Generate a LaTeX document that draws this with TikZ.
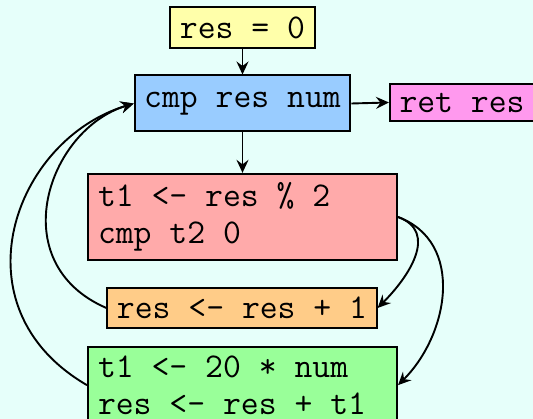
\documentclass[tikz,border=0pt]{standalone}
\usepackage{fontspec}
\setmonofont{Latin Modern Mono}
\usetikzlibrary{arrows.meta}

\definecolor{bgcyan}{HTML}{E6FFFA}
\definecolor{cyellow}{HTML}{FFFFAA}
\definecolor{cblue}{HTML}{99CCFF}
\definecolor{cpink}{HTML}{FF99EE}
\definecolor{csalmon}{HTML}{FFAAAA}
\definecolor{corange}{HTML}{FFCC88}
\definecolor{cgreen}{HTML}{99FF99}

% keep the full monospace word space inside ragged-right node paragraphs
\newcommand\fullspaces{\spaceskip=0pt\xspaceskip=0pt\relax}

\tikzset{
  blk/.style={draw=black, line width=2pt, inner xsep=9.5pt, inner ysep=9pt,
    font=\fontsize{34.7pt}{36.5pt}\selectfont\ttfamily},
  wideblk/.style={blk, text width=289pt, inner xsep=10pt, align=left},
  flow/.style={line width=1.9pt, -{Stealth[length=13pt,width=12pt,inset=4.5pt]}}
}

\begin{document}
\begin{tikzpicture}[x=1pt, y=-1pt]
  \fill[bgcyan] (0,0) rectangle (533,419);
  \useasboundingbox (0,0) rectangle (533,419);

  % basic blocks
  \node[blk, fill=cyellow] (init) at (242.5,27.5) {res = 0};
  \node[blk, fill=cblue, minimum height=56pt] (cmp) at (242.5,103.5) {cmp res num};
  \node[blk, fill=cpink, anchor=west] (ret) at (389,102.5) {ret res};
  \node[wideblk, fill=csalmon] (test) at (242.5,217)
    {\fullspaces t1 <- res \% 2\\cmp t2 0};
  \node[blk, fill=corange] (inc) at (242,308) {res <- res + 1};
  \node[wideblk, fill=cgreen, anchor=north] (step) at (242.5,346)
    {\fullspaces t1 <- 20 * num\\res <- res + t1};

  % straight edges
  \draw[flow] (init.south) -- (cmp.north);
  \draw[flow] (cmp.east) -- (ret.west);
  \draw[flow] (cmp.south) -- (test.north);

  % branches out of the test block
  \draw[flow] (test.east) .. controls +(41,15) and +(31,-31) .. (inc.east);
  \draw[flow] (test.east) .. controls +(67,25) and +(51,-51) .. (step.east);

  % back edges to the loop header
  \draw[flow] (inc.west) .. controls +(-104,-45) and +(-86,26) .. (cmp.west);
  \draw[flow] (step.west) .. controls +(-134,-78) and +(-120,36) .. (cmp.west);
\end{tikzpicture}
\end{document}
